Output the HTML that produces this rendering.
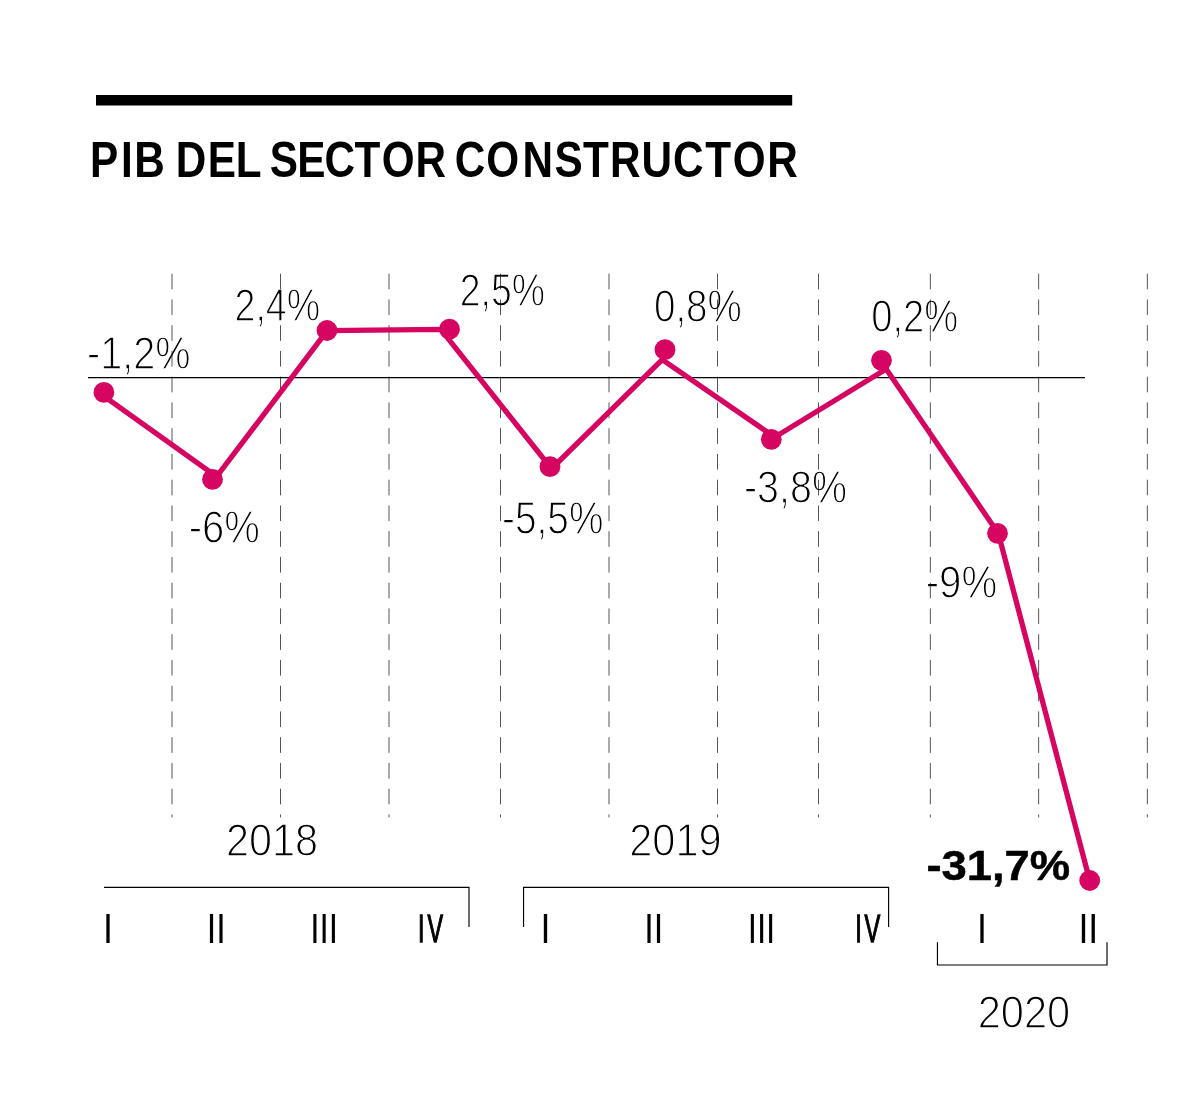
<!DOCTYPE html>
<html lang="es"><head><meta charset="utf-8"><title>PIB del sector constructor</title>
<style>
html,body{margin:0;padding:0;background:#fff}
body{width:1200px;height:1112px;overflow:hidden}
svg{display:block}
text{font-family:"Liberation Sans",sans-serif;font-kerning:none;fill:#000}
.dash{mix-blend-mode:multiply}
</style></head><body>
<svg width="1200" height="1112" viewBox="0 0 1200 1112">
<rect width="1200" height="1112" fill="#fff"/>
<rect x="96" y="95" width="696.2" height="10.5" fill="#000"/>
<text class="title" transform="translate(0,177.1) scale(0.8413,1)" font-size="50.29" font-weight="700" x="107.10 143.90 159.50 195.82 208.81 247.09 280.13 310.85 320.64 353.34 385.74 421.48 453.85 493.83 530.14 540.45 578.07 620.97 658.97 692.93 725.10 762.46 799.94 838.42 871.11 912.12">PIB DEL SECTOR CONSTRUCTOR</text>
<g class="lab">
<text transform="translate(86.99,368.70) scale(0.8567,1)" font-size="46.33" stroke="#fff" stroke-width="1.3">-1,2%</text>
<text transform="translate(188.77,542.90) scale(0.8643,1)" font-size="46.33" stroke="#fff" stroke-width="1.3">-6%</text>
<text transform="translate(234.46,321.40) scale(0.8129,1)" font-size="46.33" stroke="#fff" stroke-width="1.3">2,4%</text>
<text transform="translate(459.77,306.20) scale(0.8080,1)" font-size="46.33" stroke="#fff" stroke-width="1.3">2,5%</text>
<text transform="translate(502.03,534.40) scale(0.8379,1)" font-size="46.33" stroke="#fff" stroke-width="1.3">-5,5%</text>
<text transform="translate(653.94,321.60) scale(0.8332,1)" font-size="46.33" stroke="#fff" stroke-width="1.3">0,8%</text>
<text transform="translate(744.00,502.70) scale(0.8507,1)" font-size="46.33" stroke="#fff" stroke-width="1.3">-3,8%</text>
<text transform="translate(871.16,332.40) scale(0.8244,1)" font-size="46.33" stroke="#fff" stroke-width="1.3">0,2%</text>
<text transform="translate(925.66,597.60) scale(0.8681,1)" font-size="46.33" stroke="#fff" stroke-width="1.3">-9%</text>
<text transform="translate(226.07,855.70) scale(0.9017,1)" font-size="45.90" stroke="#fff" stroke-width="1.3">2018</text>
<text transform="translate(629.26,855.70) scale(0.9054,1)" font-size="45.90" stroke="#fff" stroke-width="1.3">2019</text>
<text transform="translate(977.66,1027.70) scale(0.9070,1)" font-size="45.90" stroke="#fff" stroke-width="1.3">2020</text>
<text transform="translate(102.99,942.50) scale(0.8611,1)" font-size="41.72">I</text>
<text transform="translate(206.84,942.50) scale(0.8204,1)" font-size="41.72">II</text>
<text transform="translate(310.21,942.50) scale(0.8016,1)" font-size="41.72">III</text>
<text transform="translate(540.39,942.50) scale(0.8611,1)" font-size="41.72">I</text>
<text transform="translate(644.14,942.50) scale(0.8204,1)" font-size="41.72">II</text>
<text transform="translate(747.63,942.50) scale(0.7979,1)" font-size="41.72">III</text>
<text transform="translate(976.99,942.50) scale(0.8611,1)" font-size="41.72">I</text>
<text transform="translate(1078.39,942.50) scale(0.8592,1)" font-size="41.72">II</text>
<text transform="translate(0,941.85) scale(0.5934,1)" font-size="39.24" stroke="#000" stroke-width="1.3" stroke-linejoin="miter" x="704.62 720.37">IV</text>
<text transform="translate(0,941.85) scale(0.6026,1)" font-size="39.24" stroke="#000" stroke-width="1.3" stroke-linejoin="miter" x="1419.32 1434.50">IV</text>
<text transform="translate(926.38,879.75) scale(1.0662,1)" font-size="42.59" font-weight="700" stroke="#000" stroke-width="0.5">-31,7%</text>
</g>
<g class="dash" stroke="#555" stroke-width="1" stroke-dasharray="15.65 10.1" fill="none">
<path d="M172 273.7V817.4"/>
<path d="M280.5 273.7V817.4"/>
<path d="M389 273.7V817.4"/>
<path d="M500.5 273.7V817.4"/>
<path d="M609 273.7V817.4"/>
<path d="M717.5 273.7V817.4"/>
<path d="M818.5 273.7V817.4"/>
<path d="M930.35 273.7V817.4"/>
<path d="M1038.65 273.7V817.4"/>
<path d="M1147.35 273.7V817.4"/>
</g>
<g stroke="#000" stroke-width="1.15" fill="none">
<path d="M88 377.6H1085"/>
<path d="M104 887.4H469V927.1"/>
<path d="M523.55 927.1V887.4H888.6V927.1"/>
<path d="M937.45 942.3V965H1107V942.3"/>
</g>
<polyline points="103.9,396.1 216.6,476.7 327.2,330.6 440.8,329.3 551.5,468.7 662.2,359.6 774.7,437.2 886.2,369.1 998.4,533.6 1089.7,880.5" fill="none" stroke="#d60561" stroke-width="5.3" stroke-linejoin="miter"/>
<g fill="#d60561">
<circle cx="103.9" cy="392.4" r="10.4"/>
<circle cx="212.5" cy="479.4" r="10.4"/>
<circle cx="327" cy="330.5" r="10.4"/>
<circle cx="449.5" cy="329.2" r="10.4"/>
<circle cx="550" cy="466.7" r="10.4"/>
<circle cx="665" cy="349.7" r="10.4"/>
<circle cx="771.3" cy="439.3" r="10.4"/>
<circle cx="881.5" cy="360.3" r="10.4"/>
<circle cx="997.5" cy="533.3" r="10.4"/>
<circle cx="1089.7" cy="880.5" r="10.4"/>
</g>
</svg>
</body></html>
